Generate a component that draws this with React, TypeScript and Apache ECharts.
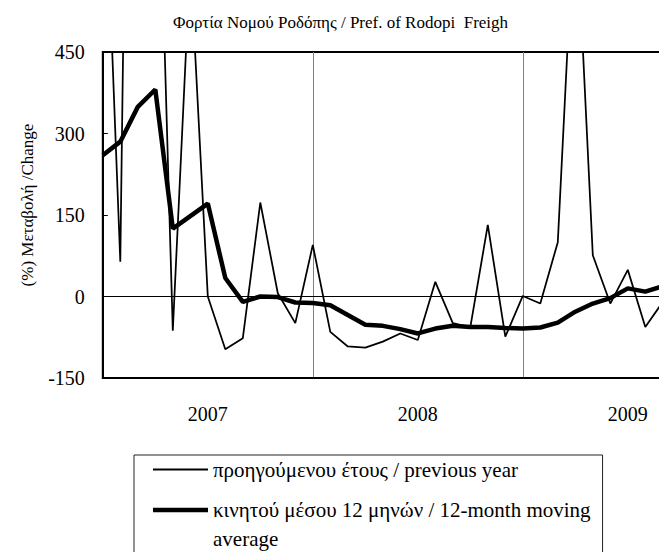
import React, { useEffect, useRef } from "react";
import * as echarts from "echarts";

const YEARS = ["2007", "2008", "2009", "2010"];
const MONTHS = ["01", "02", "03", "04", "05", "06", "07", "08", "09", "10", "11", "12"];
// monthly categories from the start of 2007 to the start of 2010
const CATEGORIES: string[] = [];
YEARS.forEach((y, yi) => {
  MONTHS.forEach((m, mi) => {
    if (yi < YEARS.length - 1 || mi === 0) CATEGORIES.push(`${y}-${m}`);
  });
});

const TITLE = "Φορτία Νομού Ροδόπης / Pref. of Rodopi  Freigh";
const Y_NAME = "(%) Μεταβολή /Change";
const SERIES_NAMES = [
  "προηγούμενου έτους / previous year",
  "κινητού μέσου 12 μηνών / 12-month moving average",
];

// % change on previous year (monthly)
const PREV_YEAR = [
  900, 64, 2500, 1050, -63, 620, 0, -97, -77, 173, 6, -49,
  95, -65, -92, -94, -83, -68, -80, 27, -49, -57, 132, -74,
  1, -13, 100, 745, 76, -13, 49, -56, -10,
];
// 12-month moving average
const MOVING_AVG = [
  260, 285, 349, 381, 125, 148, 171, 34, -10, 0, -1, -11,
  -12, -16, -34, -52, -54, -60, -68, -59, -54, -56, -56, -58,
  -59, -57, -48, -28, -13, -3, 15, 9, 19,
];

const Y_MIN = -150;
const Y_MAX = 450;
const Y_INTERVAL = 150;

const FONT = "Liberation Serif, Times New Roman, serif";

export default function App() {
  const ref = useRef<HTMLDivElement>(null);
  useEffect(() => {
    if (!ref.current) return;
    const chart = echarts.init(ref.current, null, { renderer: "svg" });
    const tok = { fontFamily: FONT, fontSize: 21, lineHeight: 29, color: "#000" };
    const legendText = {
      ...tok,
      rich: { t: tok, pad: tok },
    };
    chart.setOption({
      animation: false,
      backgroundColor: "#fff",
      textStyle: { fontFamily: FONT, color: "#000" },
      title: {
        text: TITLE,
        left: 335.5,
        top: 9,
        textAlign: "center",
        textStyle: { fontFamily: FONT, fontSize: 17, fontWeight: "normal", color: "#000" },
      },
      grid: {
        left: 102.8,
        top: 52,
        right: 27.2,
        bottom: 174,
        show: true,
        borderColor: "#000",
        borderWidth: 2,
      },
      xAxis: {
        type: "category",
        data: CATEGORIES,
        boundaryGap: false,
        axisLine: { onZero: false, lineStyle: { color: "#000", width: 2 } },
        axisTick: { show: false },
        axisLabel: {
          interval: (i: number) => i % 12 === 6,
          formatter: (v: string) => v.slice(0, 4),
          margin: 26,
          fontSize: 20,
          fontFamily: FONT,
          color: "#000",
        },
        splitLine: {
          show: true,
          interval: (i: number) => i > 0 && i < CATEGORIES.length - 1 && i % 12 === 0,
          lineStyle: { color: "#808080", width: 1 },
        },
      },
      yAxis: {
        type: "value",
        min: Y_MIN,
        max: Y_MAX,
        interval: Y_INTERVAL,
        name: Y_NAME,
        nameLocation: "middle",
        nameGap: 67,
        nameTextStyle: { fontFamily: FONT, fontSize: 17, color: "#000", padding: [0, 0, 0, 20] },
        axisLine: { show: true, lineStyle: { color: "#000", width: 2 } },
        axisTick: { show: true, inside: true, length: 5, lineStyle: { color: "#000", width: 1 } },
        axisLabel: { margin: 18, fontSize: 20, fontFamily: FONT, color: "#000" },
        splitLine: { show: false },
      },
      legend: {
        orient: "vertical",
        left: 134,
        top: 455,
        height: 300,
        padding: [0, 12, 20, 19],
        itemWidth: 55,
        itemHeight: 14,
        itemGap: -17.5,
        borderColor: "#222",
        borderWidth: 1,
        selectedMode: false,
        textStyle: legendText,
        formatter: (n: string) =>
          n.indexOf(" average") >= 0
            ? "{pad| }\n{t|" + n.replace(" average", "}\n{t|average}")
            : "{t|" + n + "}",
        data: [
          { name: SERIES_NAMES[0], icon: "path://M0,0H55V2H0Z" },
          { name: SERIES_NAMES[1], icon: "path://M0,0H55V4.5H0Z" },
        ],
      },
      series: [
        {
          name: SERIES_NAMES[0],
          type: "line",
          data: PREV_YEAR,
          symbol: "none",
          lineStyle: { color: "#000", width: 1.75 },
          itemStyle: { color: "#000" },
          markLine: {
            silent: true,
            symbol: ["none", "none"],
            label: { show: false },
            lineStyle: { color: "#000", width: 1, type: "solid" },
            data: [{ yAxis: 0 }],
          },
        },
        {
          name: SERIES_NAMES[1],
          type: "line",
          data: MOVING_AVG,
          symbol: "none",
          lineStyle: { color: "#000", width: 4.5 },
          itemStyle: { color: "#000" },
          z: 3,
        },
      ],
    });
    return () => chart.dispose();
  }, []);
  return (
    <div
      style={{
        position: "absolute",
        left: 0,
        top: 0,
        width: 659,
        height: 552,
        overflow: "hidden",
        background: "#fff",
      }}
    >
      <div ref={ref} style={{ width: 760, height: 552 }} />
    </div>
  );
}
